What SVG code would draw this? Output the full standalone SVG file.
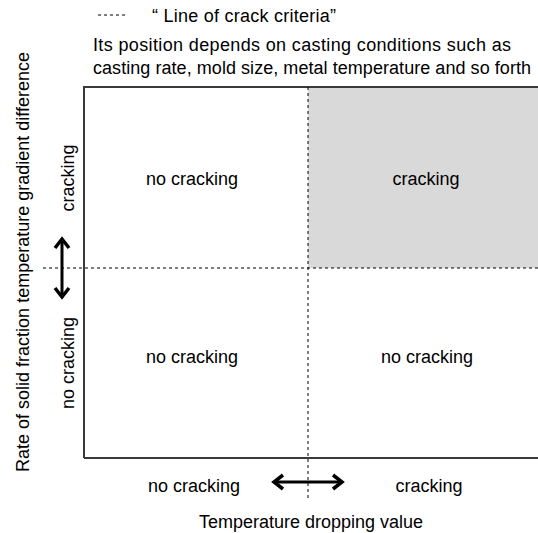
<svg xmlns="http://www.w3.org/2000/svg" width="538" height="533" viewBox="0 0 538 533">
<style>
text{font-family:"Liberation Sans",Arial,sans-serif;font-size:18px;fill:#000}
.c{text-anchor:middle}
.dash{stroke:#000;stroke-width:1;stroke-dasharray:3 3;fill:none}
.arr{stroke:#000;stroke-width:3;fill:none;stroke-linecap:butt}
.head{stroke:#000;stroke-width:3.5;fill:none;stroke-linejoin:miter}
</style>
<rect width="538" height="533" fill="#fff"/>
<g id="legend">
<line class="dash" x1="98" y1="15" x2="128" y2="15"/>
<text x="152" y="22" textLength="184" lengthAdjust="spacing">“ Line of crack criteria”</text>
<text x="93" y="51" textLength="418" lengthAdjust="spacing">Its position depends on casting conditions such as</text>
<text x="93" y="74" textLength="438" lengthAdjust="spacing">casting rate, mold size, metal temperature and so forth</text>
</g>
<g id="plot">
<rect x="308" y="87" width="232" height="181" fill="#d9d9d9"/>
<path d="M84 458 V87 H540" fill="none" stroke="#3a3a3a" stroke-width="2"/>
<line x1="84" y1="458" x2="540" y2="458" stroke="#3a3a3a" stroke-width="2"/>
</g>
<g id="criteria-lines">
<line class="dash" x1="308" y1="87" x2="308" y2="500" stroke-dasharray="4 3"/>
<line class="dash" x1="43" y1="268" x2="538" y2="268" stroke-dasharray="4 3"/>
</g>
<g id="q1"><text class="c" x="192" y="185">no cracking</text></g>
<g id="q2"><text class="c" x="426" y="185">cracking</text></g>
<g id="q3"><text class="c" x="192" y="363">no cracking</text></g>
<g id="q4"><text class="c" x="427" y="363">no cracking</text></g>
<g id="axis-labels">
<text class="c" x="194" y="492">no cracking</text>
<text class="c" x="429" y="492">cracking</text>
<text class="c" x="311" y="528">Temperature dropping value</text>
<text class="c" transform="translate(74,178) rotate(-90)">cracking</text>
<text class="c" transform="translate(74,363) rotate(-90)">no cracking</text>
<text class="c" transform="translate(29,262) rotate(-90)" textLength="420" lengthAdjust="spacing">Rate of solid fraction temperature gradient difference</text>
</g>
<g id="connectors">
<line class="arr" x1="62" y1="240" x2="62" y2="296"/>
<path class="head" d="M55 248 L62 239 L69 248"/>
<path class="head" d="M55 288 L62 297 L69 288"/>
<line class="arr" x1="275" y1="482" x2="341" y2="482"/>
<path class="head" d="M283 475 L274 482 L283 489"/>
<path class="head" d="M333 475 L342 482 L333 489"/>
</g>
</svg>
